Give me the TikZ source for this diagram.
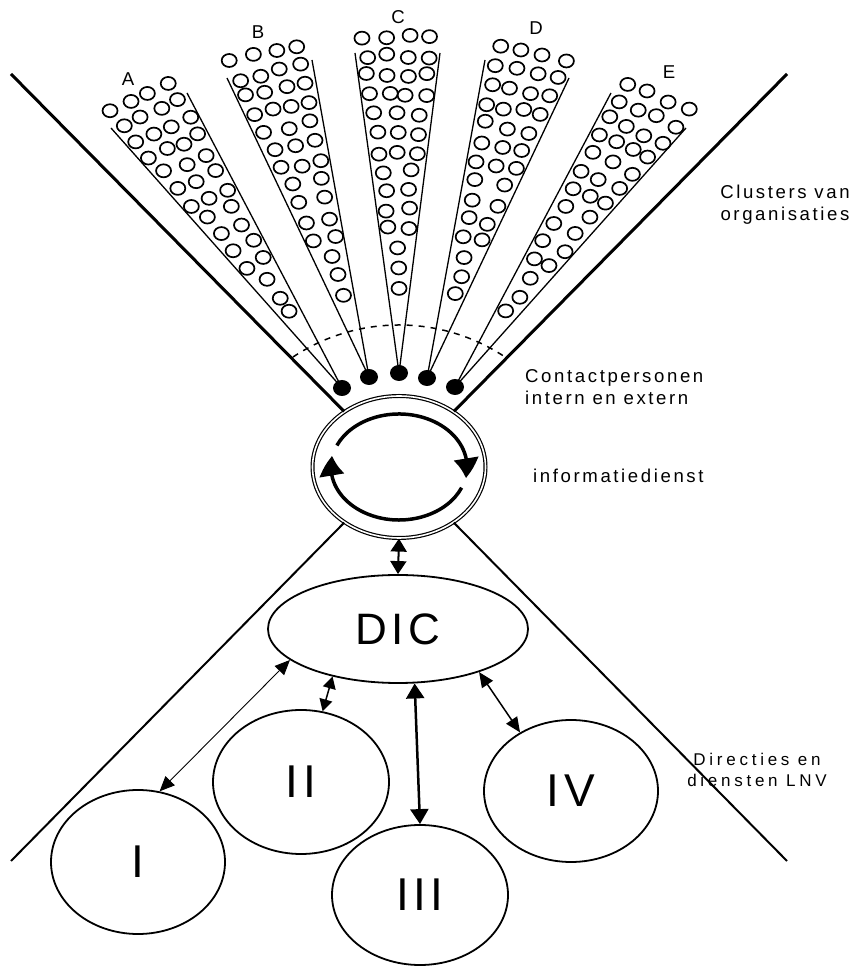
\documentclass[tikz,border=0pt]{standalone}
\usepackage{fontspec}
\setmainfont{Liberation Sans}
\newfontfamily\lblfont[LetterSpace=14]{Liberation Sans}
\newfontfamily\widefont[LetterSpace=22]{Liberation Sans}
\newfontfamily\unitfont[LetterSpace=10]{Liberation Sans}
\usetikzlibrary{shapes.geometric, arrows.meta, bending, calc}

\tikzset{
    org/.style={draw, ellipse, line width=1.7pt, minimum width=15pt, minimum height=13pt, inner sep=0pt},
    contact/.style={fill, ellipse, minimum width=18pt, minimum height=16pt, inner sep=0pt},
    unit/.style={draw, ellipse, line width=1.8pt, inner sep=0pt, font=\unitfont\fontsize{46}{50}\selectfont},
    lbl/.style={inner sep=0pt, font=\lblfont\fontsize{18.6}{21.7}\selectfont},
    link/.style={<->, >={Triangle[length=15pt,width=13pt]}, line width=1.5pt},
}

\begin{document}
\begin{tikzpicture}[x=1pt, y=1pt]
    \useasboundingbox (0,0) rectangle (858,967);

    % Ring
    \node[draw, ellipse, double, line width=1.2pt, double distance=1.6pt, minimum width=173pt, minimum height=142pt, inner sep=0pt] (ring) at (399,500) {};
    \draw[line width=3.5pt, -{Triangle[length=20pt,width=24pt,bend]}] ($(ring.center)+(156:68pt and 53pt)$) arc[start angle=156, end angle=-12, x radius=68pt, y radius=53pt];
    \draw[line width=3.5pt, -{Triangle[length=20pt,width=24pt,bend]}] ($(ring.center)+(-23:68pt and 53pt)$) arc[start angle=-23, end angle=-192, x radius=68pt, y radius=53pt];

    % Main lines
    \coordinate (upl) at (11,893);
    \coordinate (upr) at (787,893);
    \coordinate (lowl) at (11,106);
    \coordinate (lowr) at (787,106);
    \draw[line width=3pt] (upl) -- (ring);
    \draw[line width=3pt] (upr) -- (ring);
    \draw[line width=2pt] (lowl) -- (ring);
    \draw[line width=2pt] (lowr) -- (ring);

    % Clusters
    \pgfmathsetseed{12}
    \foreach \w/\px/\py/\lx/\ly/\rx/\ry in {A/342/579/111/839/187/874, B/369/590/227/889/312/907, C/399/594/355/914/440/914, D/427/589/485/907/569/889, E/455/580/611/874/686/839} {
        \node[contact] (contact\w) at (\px,\py) {};
        \coordinate (l\w) at (\lx,\ly);
        \coordinate (r\w) at (\rx,\ry);
        \draw[line width=1.3pt] (l\w) -- (contact\w.center) -- (r\w);
        \foreach \row in {0,...,13} {
            \pgfmathsetmacro\tpos{0.27+0.06*\row}
            \pgfmathtruncatemacro\n{max(1,4.6*\tpos)}
            \coordinate (p) at ($(contact\w.center)!\tpos!(l\w)$);
            \coordinate (q) at ($(contact\w.center)!\tpos!(r\w)$);
            \foreach \col in {1,...,\n} {
                \pgfmathsetmacro\s{(\col-0.5)/\n}
                \node[org] at ($(p)!\s!(q)+(2*rand,2*rand)$) {};
            }
        }
    }
    \draw[dash pattern=on 6pt off 6pt, line width=1.5pt] (293,610) arc[start angle=123.6, end angle=56.4, radius=191.6pt];

    % Labels
    \node[lbl] (labA) at (128,888) {A};
    \node[lbl] (labB) at (258,935) {B};
    \node[lbl] (labC) at (398,950) {C};
    \node[lbl] (labD) at (536,939) {D};
    \node[lbl] (labE) at (669,895) {E};
    \node[lbl, align=center] (clusters) at (785,762) {Clusters van\\organisaties};
    \node[lbl, align=left, anchor=west] (contacts) at (525,580) {Contactpersonen\\intern en extern};
    \node[lbl, anchor=west] (info) at (533,491) {informatiedienst};
    \node[lbl, align=center, font=\widefont\fontsize{17}{21}\selectfont] (directies) at (757,197) {Directies en\\diensten LNV};

    % Directies
    \node[unit, minimum width=260pt, minimum height=108pt, font=\unitfont\fontsize{44}{48}\selectfont] (dic) at (398,338) {DIC};
    \node[unit, minimum width=174pt, minimum height=144pt] (dI) at (138,105) {I};
    \node[unit, minimum width=176pt, minimum height=144pt] (dII) at (301,185) {II};
    \node[unit, minimum width=176pt, minimum height=140pt] (dIII) at (420,72) {III};
    \node[unit, minimum width=174pt, minimum height=142pt] (dIV) at (571,176) {IV};

    % Arrows
    \draw[link, line width=2pt, >={Triangle[length=13pt,width=16pt]}] (ring.south) -- (dic.north);
    \draw[link, line width=0.9pt] (dic.196) -- (dI.73);
    \draw[link, >={Triangle[length=12pt,width=13pt]}] (dic.216) -- (dII.73);
    \draw[link, line width=2.5pt, >={Triangle[length=15pt,width=18pt]}] (dic.287) -- (dIII.north);
    \draw[link] (dic.332) -- (dIV.131);
\end{tikzpicture}
\end{document}
